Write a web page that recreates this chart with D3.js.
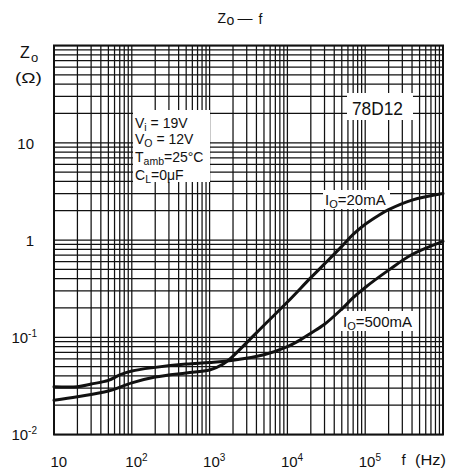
<!DOCTYPE html>
<html><head><meta charset="utf-8">
<script src="https://cdn.jsdelivr.net/npm/d3@7"></script>
<style>
html,body{margin:0;padding:0;background:#fff;}
text{font-family:"Liberation Sans",Arial,sans-serif;fill:#111;}
</style></head>
<body><svg id="c" width="449" height="472"></svg>
<script>
// ---- data ----
const xTickValues = [10, 100, 1000, 10000, 100000];
const yTickValues = [0.01, 0.1, 1, 10];
const seriesNames = ["Io=20mA", "Io=500mA"];
const freq20 = [10,20,50,100,200,500,1000,1500,2000,3000,5000,10000,20000,30000,50000,70000,100000,150000,200000,400000,1000000];
const zo20   = [0.0225,0.0245,0.028,0.034,0.039,0.043,0.046,0.053,0.064,0.088,0.133,0.23,0.41,0.568,0.86,1.14,1.45,1.8,2.05,2.57,3.0];
const freq500 = [10,20,30,50,70,100,200,500,1000,2000,5000,10000,15000,20000,30000,50000,70000,100000,200000,400000,1000000];
const zo500   = [0.031,0.031,0.033,0.036,0.041,0.045,0.049,0.053,0.055,0.058,0.066,0.080,0.095,0.11,0.136,0.195,0.255,0.325,0.49,0.71,0.97];
const conditions = [["V","i"," = 19V"],["V","O"," = 12V"],["T","amb","=25°C"],["C","L","=0μF"]];

// ---- layout ----
const svg = d3.select("#c");
const L = 54, R = 443, T = 45.5, B = 434.5;
const x = d3.scaleLog().domain([10, 1e6]).range([L, R]);
const y = d3.scaleLog().domain([0.01, 100]).range([B, T]);

svg.append("rect").attr("width",449).attr("height",472).attr("fill","#fff");

// grid
const g = svg.append("g");
g.selectAll("line.v").data(x.ticks()).join("line")
  .attr("x1", d=>x(d)).attr("x2", d=>x(d)).attr("y1", T).attr("y2", B)
  .attr("stroke","#111").attr("stroke-width",1.25);
g.selectAll("line.h").data(y.ticks()).join("line")
  .attr("y1", d=>y(d)).attr("y2", d=>y(d)).attr("x1", L).attr("x2", R)
  .attr("stroke","#111").attr("stroke-width",1.25);
svg.append("rect").attr("x",L).attr("y",T).attr("width",R-L).attr("height",B-T)
  .attr("fill","none").attr("stroke","#111").attr("stroke-width",2);

// white boxes behind annotations
svg.append("rect").attr("x",133).attr("y",110).attr("width",77).attr("height",72).attr("fill","#fff");
svg.append("rect").attr("x",347).attr("y",93).attr("width",66).attr("height",27).attr("fill","#fff");
svg.append("rect").attr("x",323).attr("y",190).attr("width",67).attr("height",19).attr("fill","#fff");
svg.append("rect").attr("x",341).attr("y",311).attr("width",76).attr("height",20).attr("fill","#fff");

// curves
const line = d3.line().x(d=>x(d[0])).y(d=>y(d[1])).curve(d3.curveCatmullRom.alpha(0.5));
const data = [d3.zip(freq20, zo20), d3.zip(freq500, zo500)];
svg.selectAll("path.curve").data(data).join("path")
  .attr("class","curve").attr("d", line)
  .attr("fill","none").attr("stroke","#111").attr("stroke-width",3).attr("stroke-linecap","round");

// axes
const xa = svg.append("g").attr("transform",`translate(0,${B})`)
  .call(d3.axisBottom(x).tickValues(xTickValues).tickSize(0).tickFormat(""));
xa.select(".domain").remove();
xa.selectAll(".tick").each(function(d,i){
  const t = d3.select(this).append("text").attr("y",32).attr("x", i===0 ? -4 : -7)
    .attr("text-anchor","start").style("font-size","15px").style("fill","#111");
  t.append("tspan").text("10");
  const e = Math.round(Math.log10(d));
  if (e > 1) t.append("tspan").attr("dy",-6).style("font-size","10px").text(e);
});
const ya = svg.append("g").attr("transform",`translate(${L},0)`)
  .call(d3.axisLeft(y).tickValues(yTickValues).tickSize(0).tickFormat(""));
ya.select(".domain").remove();
ya.selectAll(".tick").each(function(d){
  const e = Math.round(Math.log10(d));
  const t = d3.select(this).append("text").attr("x",-20).attr("dy","0.36em")
    .attr("text-anchor","end").style("font-size","15px").style("fill","#111");
  if (e === 0) { t.text("1"); }
  else if (e === 1) { t.text("10"); }
  else {
    t.attr("x",-17);
    t.append("tspan").text("10");
    t.append("tspan").attr("dy",-6).style("font-size","10px").text("-" + (-e));
  }
});

// title
svg.append("text").attr("x",217.5).attr("y",23).style("font-size","14px").text("Z");
svg.append("text").attr("x",226.5).attr("y",25).style("font-size","14px").text("o");
svg.append("text").attr("x",237.5).attr("y",23).style("font-size","14px")
  .attr("textLength",15).attr("lengthAdjust","spacingAndGlyphs").text("—");
svg.append("text").attr("x",258.5).attr("y",23.5).style("font-size","14px").text("f");

// y-axis title
svg.append("text").attr("x",20).attr("y",58).style("font-size","16px").text("Z");
svg.append("text").attr("x",31).attr("y",62).style("font-size","13px").text("o");
svg.append("text").attr("x",15).attr("y",83).style("font-size","15px")
  .attr("textLength",27).attr("lengthAdjust","spacingAndGlyphs").text("(Ω)");

// x-axis title
svg.append("text").attr("x",401.5).attr("y",465).style("font-size","15px").text("f");
svg.append("text").attr("x",415).attr("y",465).style("font-size","15px")
  .attr("textLength",31).attr("lengthAdjust","spacingAndGlyphs").text("(Hz)");

// conditions
const condY = [128, 144, 162, 180];
conditions.forEach((c,i)=>{
  const t = svg.append("text").attr("x",135).attr("y",condY[i]).style("font-size","14px");
  t.append("tspan").text(c[0]);
  t.append("tspan").attr("dy",3).style("font-size","10.5px").text(c[1]);
  t.append("tspan").attr("dy",-3).text(c[2]);
});

// part number
svg.append("text").attr("x",352).attr("y",115).style("font-size","19px")
  .attr("textLength",51).attr("lengthAdjust","spacingAndGlyphs").text("78D12");

// series labels
function seriesLabel(name, xx, yy){
  const t = svg.append("text").attr("x",xx).attr("y",yy).style("font-size","15px");
  t.append("tspan").text("I");
  t.append("tspan").attr("dy",3).style("font-size","11px").text("O");
  t.append("tspan").attr("dy",-3).text(name.slice(2));
}
seriesLabel(seriesNames[0], 325, 205);
seriesLabel(seriesNames[1], 343, 326.5);
</script></body></html>
